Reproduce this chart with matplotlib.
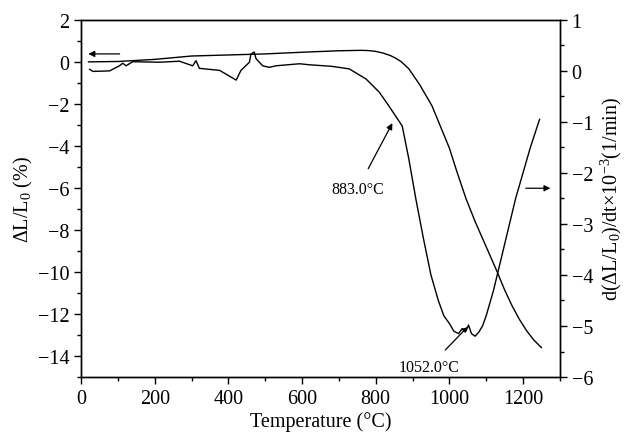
import matplotlib
matplotlib.use("Agg")
import matplotlib.pyplot as plt
from matplotlib.ticker import MultipleLocator

plt.rcParams['font.family'] = ['Liberation Serif', 'DejaVu Serif']
plt.rcParams['mathtext.fontset'] = 'custom'
plt.rcParams['mathtext.rm'] = 'Liberation Serif'
plt.rcParams['mathtext.it'] = 'Liberation Serif:italic'
plt.rcParams['mathtext.bf'] = 'Liberation Serif:bold'

# dilatation curve (left axis)
temp_dl = [20, 100, 200, 300, 400, 500, 600, 700, 760, 780, 800, 820, 840, 855, 870,
           890, 920, 953, 1000, 1020, 1045, 1070, 1090, 1110, 1130, 1150, 1170, 1190,
           1210, 1230, 1250]
dl = [0.0, 0.02, 0.12, 0.28, 0.33, 0.38, 0.46, 0.53, 0.55, 0.54, 0.5, 0.42, 0.3,
      0.17, 0.0, -0.33, -1.1, -2.1, -4.1, -5.2, -6.5, -7.6, -8.4, -9.2, -10.0, -10.85,
      -11.6, -12.25, -12.8, -13.25, -13.6]

# derivative curve (right axis)
temp_rate = [23, 32, 77, 104, 113, 122, 140, 213, 267, 303, 312, 321, 376, 421, 434,
             457, 461, 470, 475, 493, 511, 529, 593, 620, 680, 728, 774, 810, 836,
             872, 890, 909, 930, 950, 970, 985, 1000, 1012, 1025, 1035, 1045, 1052,
             1060, 1070, 1080, 1090, 1100, 1120, 1140, 1160, 1180, 1200, 1220, 1245]
rate = [0.03, -0.01, 0.0, 0.10, 0.15, 0.10, 0.18, 0.17, 0.19, 0.10, 0.20, 0.05, 0.01,
        -0.18, 0.01, 0.17, 0.33, 0.37, 0.24, 0.10, 0.07, 0.10, 0.14, 0.12, 0.09, 0.04,
        -0.16, -0.42, -0.69, -1.08, -1.73, -2.51, -3.3, -4.0, -4.5, -4.8, -4.95, -5.1,
        -5.15, -5.05, -5.1, -4.98, -5.15, -5.2, -5.12, -5.0, -4.8, -4.3, -3.7, -3.1,
        -2.5, -2.0, -1.5, -0.95]

fig = plt.figure(figsize=(6.34, 4.35), dpi=100)
ax = fig.add_axes([0.128, 0.131, 0.755, 0.821])
ax2 = ax.twinx()

ax.plot(temp_dl, dl, color='black', lw=1.0)
ax2.plot(temp_rate, rate, color='black', lw=1.0)

ax.set_xlim(0, 1300)
ax.set_ylim(-15, 2)
ax2.set_ylim(-6, 1)

ax.xaxis.set_major_locator(MultipleLocator(200))
ax.xaxis.set_minor_locator(MultipleLocator(100))
ax.yaxis.set_major_locator(MultipleLocator(2))
ax.yaxis.set_minor_locator(MultipleLocator(1))
ax2.yaxis.set_major_locator(MultipleLocator(1))
ax2.yaxis.set_minor_locator(MultipleLocator(0.5))

fs = 14.5
for a in (ax, ax2):
    a.tick_params(which='major', direction='out', length=5, width=1.0, labelsize=fs)
    a.tick_params(which='minor', direction='out', length=3, width=1.0)
    for s in a.spines.values():
        s.set_linewidth(1.0)
ax.tick_params(top=False, which='both')

ax.set_xlabel('Temperature (°C)', fontsize=fs, labelpad=2)
ax.set_ylabel('ΔL/L$_0$ (%)', fontsize=fs, labelpad=2)
ax2.set_ylabel('d(ΔL/L$_0$)/dt×10$^{-3}$(1/min)', fontsize=fs, labelpad=4)

# indicator arrows
ax.annotate('', xy=(12, 0.38), xytext=(112, 0.38),
            arrowprops=dict(arrowstyle='-|>', color='black', lw=0.9, mutation_scale=9))
ax2.annotate('', xy=(1282, -2.3), xytext=(1200, -2.3),
             arrowprops=dict(arrowstyle='-|>', color='black', lw=0.9, mutation_scale=9))

# annotations
ax2.annotate('883.0°C', xy=(847, -1.0), xytext=(750, -2.32), fontsize=11.5,
             ha='center', va='center',
             arrowprops=dict(arrowstyle='-|>', color='black', lw=0.9, mutation_scale=9,
                             shrinkA=8, shrinkB=1))
ax2.annotate('1052.0°C', xy=(1052, -5.0), xytext=(945, -5.8), fontsize=11.5,
             ha='center', va='center',
             arrowprops=dict(arrowstyle='-|>', color='black', lw=0.9, mutation_scale=7,
                             shrinkA=6, shrinkB=1))

fig.savefig('out.png', dpi=100)
